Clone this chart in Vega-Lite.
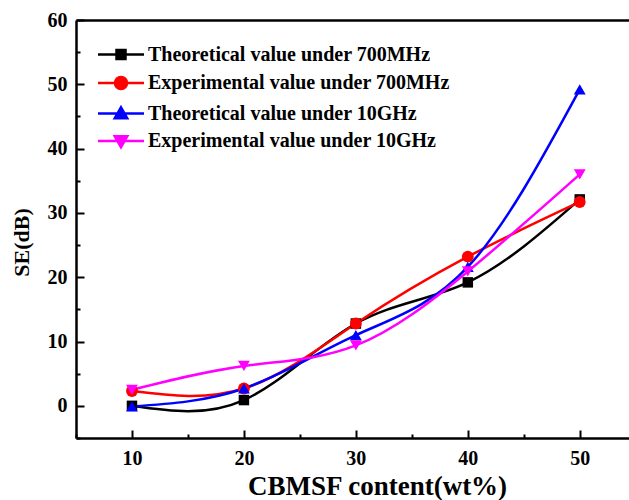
{
  "$schema": "https://vega.github.io/schema/vega-lite/v6.json",
  "autosize": "none",
  "width": 553,
  "height": 418,
  "padding": {"left": 76, "top": 20, "right": 0, "bottom": 62},
  "background": "white",
  "config": {
    "view": {"stroke": null},
    "font": "Liberation Serif",
    "axis": {
      "labelFont": "Liberation Serif",
      "labelFontWeight": "bold",
      "labelFontSize": 20,
      "labelColor": "black",
      "labelOverlap": false,
      "titleFont": "Liberation Serif",
      "titleFontWeight": "bold",
      "titleColor": "black",
      "domainColor": "black",
      "domainWidth": 2.5,
      "tickColor": "black",
      "tickWidth": 2,
      "grid": false
    },
    "legend": {
      "labelFont": "Liberation Serif",
      "labelFontWeight": "bold",
      "labelFontSize": 20,
      "labelColor": "black"
    }
  },
  "data": {
    "values": [
      {"content": 10, "se": 0.0, "series": "Theoretical value under 700MHz"},
      {"content": 20, "se": 0.9, "series": "Theoretical value under 700MHz"},
      {"content": 30, "se": 12.8, "series": "Theoretical value under 700MHz"},
      {"content": 40, "se": 19.2, "series": "Theoretical value under 700MHz"},
      {"content": 50, "se": 32.1, "series": "Theoretical value under 700MHz"},
      {"content": 10, "se": 2.3, "series": "Experimental value under 700MHz"},
      {"content": 20, "se": 2.7, "series": "Experimental value under 700MHz"},
      {"content": 30, "se": 12.8, "series": "Experimental value under 700MHz"},
      {"content": 40, "se": 23.2, "series": "Experimental value under 700MHz"},
      {"content": 50, "se": 31.7, "series": "Experimental value under 700MHz"},
      {"content": 10, "se": -0.1, "series": "Theoretical value under 10GHz"},
      {"content": 20, "se": 2.7, "series": "Theoretical value under 10GHz"},
      {"content": 30, "se": 11.0, "series": "Theoretical value under 10GHz"},
      {"content": 40, "se": 21.6, "series": "Theoretical value under 10GHz"},
      {"content": 50, "se": 49.2, "series": "Theoretical value under 10GHz"},
      {"content": 10, "se": 2.5, "series": "Experimental value under 10GHz"},
      {"content": 20, "se": 6.2, "series": "Experimental value under 10GHz"},
      {"content": 30, "se": 9.4, "series": "Experimental value under 10GHz"},
      {"content": 40, "se": 20.9, "series": "Experimental value under 10GHz"},
      {"content": 50, "se": 36.0, "series": "Experimental value under 10GHz"}
    ]
  },
  "encoding": {
    "x": {"field": "content", "type": "quantitative", "scale": {"domain": [5, 54.4], "nice": false, "zero": false}},
    "y": {
      "field": "se",
      "type": "quantitative",
      "scale": {"domain": [-5, 60], "nice": false, "zero": false},
      "axis": {
        "title": "SE(dB)",
        "titleFontSize": 22,
        "titleX": -48,
        "titleY": 222,
        "titleAngle": -90,
        "titleBaseline": "alphabetic",
        "titleAlign": "center",
        "values": [-5, 0, 5, 10, 15, 20, 25, 30, 35, 40, 45, 50, 55, 60],
        "labelExpr": "datum.value % 10 === 0 ? datum.label : ''",
        "tickSize": {"condition": {"test": "datum.value % 10 === 0", "value": -8}, "value": -4},
        "labelPadding": 17
      }
    },
    "color": {
      "field": "series",
      "type": "nominal",
      "sort": null,
      "scale": {
        "domain": [
          "Theoretical value under 700MHz",
          "Experimental value under 700MHz",
          "Theoretical value under 10GHz",
          "Experimental value under 10GHz"
        ],
        "range": ["#000000", "#ff0000", "#0000ff", "#ff00ff"]
      },
      "legend": null
    }
  },
  "layer": [
    {
      "mark": {"type": "line", "interpolate": "natural", "strokeWidth": 2.5},
      "encoding": {
        "x": {
          "field": "content",
          "type": "quantitative",
          "axis": {
            "orient": "bottom",
            "title": "CBMSF content(wt%)",
            "titleFontSize": 27,
            "titleX": 301,
            "titleY": 56,
            "titleBaseline": "alphabetic",
            "values": [5, 10, 15, 20, 25, 30, 35, 40, 45, 50],
            "labelExpr": "datum.value % 10 === 0 ? datum.label : ''",
            "tickSize": {"condition": {"test": "datum.value % 10 === 0", "value": -8}, "value": -4},
            "labelPadding": 18.5
          }
        },
        "color": {
          "field": "series",
          "type": "nominal",
          "sort": null,
          "legend": {
            "title": null,
            "orient": "none",
            "legendX": 35,
            "legendY": 24.5,
            "padding": 0,
            "symbolSize": 100,
            "symbolStrokeWidth": 2.5,
            "labelOffset": 17,
            "labelLimit": 500,
            "rowPadding": 7.5,
            "encode": {
              "symbols": {
                "update": {
                  "shape": {"signal": "datum.value === 'Theoretical value under 700MHz' ? 'M-4.6,0L4.6,0M-0.9,-0.9L0.9,-0.9L0.9,0.9L-0.9,0.9Z' : datum.value === 'Experimental value under 700MHz' ? 'M-4.6,0L4.6,0M1.2,0A1.2,1.2,0,1,1,-1.2,0A1.2,1.2,0,1,1,1.2,0Z' : datum.value === 'Theoretical value under 10GHz' ? 'M-4.6,0L4.6,0M0,-1.25L1.25,0.95L-1.25,0.95Z' : 'M-4.6,0L4.6,0M0,1.25L1.25,-0.95L-1.25,-0.95Z'"},
                  "fill": {"signal": "scale('color', datum.value)"},
                  "stroke": {"signal": "scale('color', datum.value)"},
                  "strokeWidth": {"value": 2.5},
                  "opacity": {"value": 1}
                }
              }
            }
          }
        }
      }
    },
    {
      "transform": [{"filter": "datum.series === 'Theoretical value under 700MHz'"}],
      "mark": {"type": "point", "shape": "square", "filled": true, "size": 110, "opacity": 1},
      "encoding": {
        "x": {
          "field": "content",
          "type": "quantitative",
          "axis": {"orient": "top", "title": null, "labels": false, "ticks": false, "domain": true}
        }
      }
    },
    {
      "transform": [{"filter": "datum.series === 'Experimental value under 700MHz'"}],
      "mark": {"type": "point", "shape": "circle", "filled": true, "size": 140, "opacity": 1},
      "encoding": {"x": {"field": "content", "type": "quantitative", "axis": null}}
    },
    {
      "transform": [{"filter": "datum.series === 'Theoretical value under 10GHz'"}],
      "mark": {"type": "point", "shape": "triangle-up", "filled": true, "size": 140, "opacity": 1},
      "encoding": {"x": {"field": "content", "type": "quantitative", "axis": null}}
    },
    {
      "transform": [{"filter": "datum.series === 'Experimental value under 10GHz'"}],
      "mark": {"type": "point", "shape": "triangle-down", "filled": true, "size": 140, "opacity": 1},
      "encoding": {"x": {"field": "content", "type": "quantitative", "axis": null}}
    }
  ],
  "resolve": {"axis": {"x": "independent"}}
}
